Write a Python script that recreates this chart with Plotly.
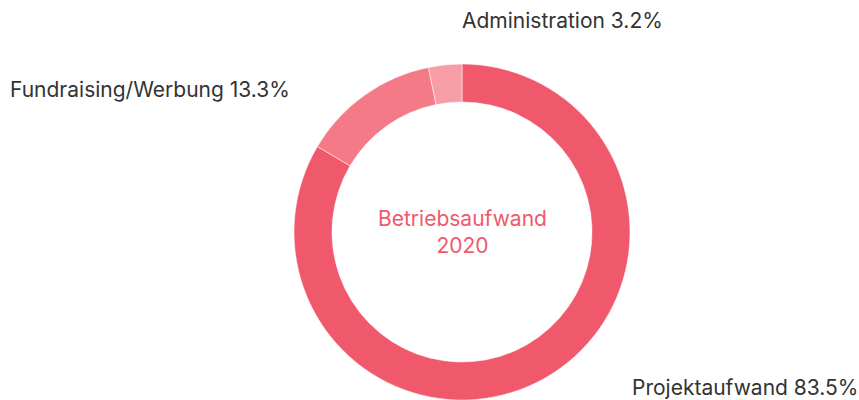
import plotly.graph_objects as go

categories = ["Projektaufwand", "Fundraising/Werbung", "Administration"]
values = [83.5, 13.3, 3.2]
colors = ["#F0596C", "#F47A88", "#F69DA6"]
center_title = "Betriebsaufwand<br>2020"

W, H = 859, 400

fig = go.Figure(go.Pie(
    labels=categories,
    values=values,
    sort=False,
    direction="clockwise",
    rotation=0,
    hole=0.774,
    marker=dict(colors=colors, line=dict(color="white", width=0.5)),
    textinfo="none",
    hoverinfo="label+percent",
    showlegend=False,
    domain=dict(x=[294 / W, 630 / W], y=[0, 336 / H]),
))

# label placements (pixel positions converted to paper coords)
label_pos = [
    (630, 387, "left"),
    (292, 89, "right"),
    (460, 20, "left"),
]
font_family = "Inter, 'Noto Sans', sans-serif"
for cat, val, (px, py, anchor) in zip(categories, values, label_pos):
    fig.add_annotation(
        x=px / W, y=1 - py / H, xref="paper", yref="paper",
        text=f"{cat} {val}%", showarrow=False,
        xanchor=anchor, yanchor="middle",
        font=dict(family=font_family, size=21, color="#333333"),
    )

fig.add_annotation(
    x=462 / W, y=1 - 232 / H, xref="paper", yref="paper",
    text=center_title, showarrow=False, xanchor="center", yanchor="middle",
    font=dict(family=font_family, size=21, color="#F0596C"),
)

fig.update_layout(
    width=W, height=H,
    margin=dict(l=0, r=0, t=0, b=0),
    paper_bgcolor="white", plot_bgcolor="white",
)
fig.write_html("out.html", config={"displayModeBar": False},
               post_script="document.body.style.margin='0px';")
